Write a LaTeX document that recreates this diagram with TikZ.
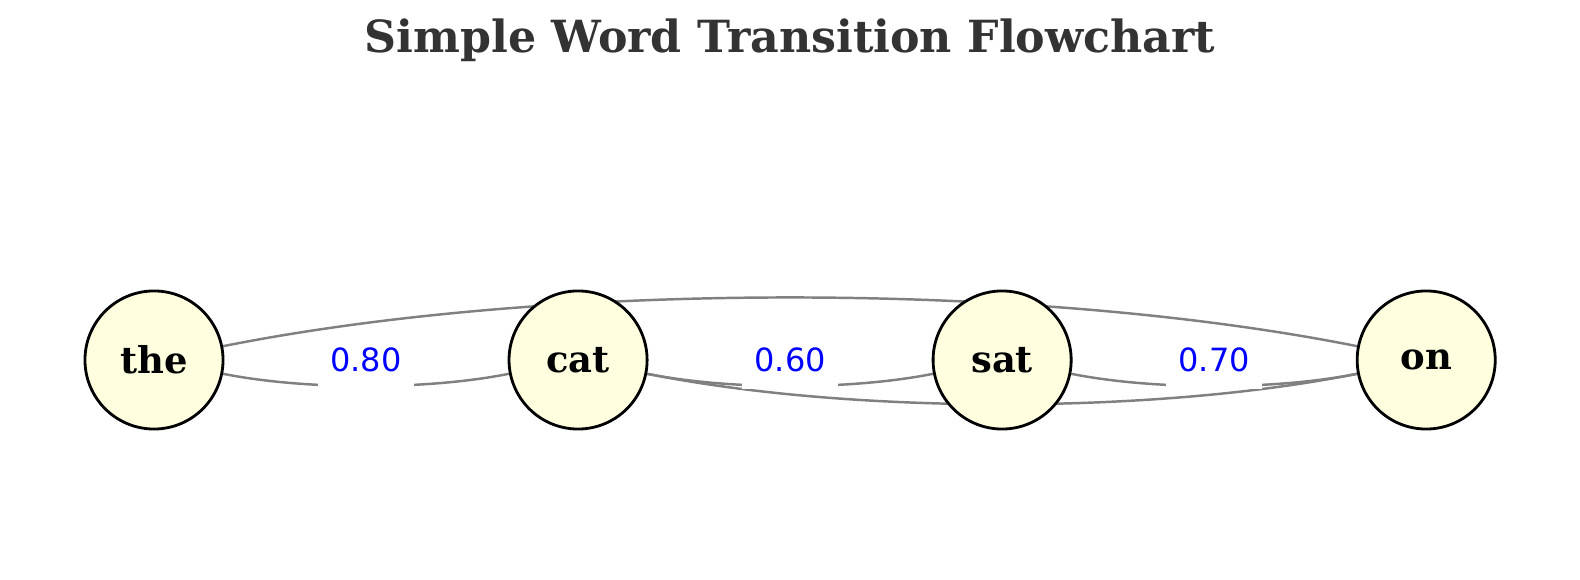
\documentclass[tikz,border=0pt]{standalone}
\usepackage{fontspec}
\setmainfont{DejaVu Serif}
\newfontfamily\probfont{DejaVu Sans}
\usepackage{tikz}
\usetikzlibrary{
	positioning,                % For "right=of node" syntax
	calc                        % For midpoints between words
}
\definecolor{wordfill}{HTML}{FFFFE0}
\definecolor{titlegray}{HTML}{333333}
\definecolor{edgegray}{HTML}{808080}
\pgfdeclarelayer{background}
\pgfsetlayers{background,main}
\tikzset{
	word/.style={
		circle,
		draw=black,
		line width=0.8pt,
		fill=wordfill,
		minimum size=1.38cm,
		inner sep=0pt,
		font=\fontsize{10.5}{12}\selectfont\bfseries
	},
	prob/.style={
		fill=white,
		text=blue,
		inner sep=0pt,
		minimum width=0.96cm,
		minimum height=0.58cm,
		font=\probfont\fontsize{9.1}{11}\selectfont
	},
	trans/.style={
		draw=edgegray,
		line width=0.7pt,
		looseness=0.75
	}
}

\begin{document}
\begin{tikzpicture}[x=0.01cm, y=-0.01cm, node distance=2.83cm]
		\useasboundingbox (0,0) rectangle (1580,580);
		
		% Title
		\node [anchor=base, text=titlegray, font=\fontsize{12.6}{15}\selectfont\bfseries] (title) at (790,53) {Simple Word Transition Flowchart};
		
		% Words in one row
		\node [word] (the) at (154,360) {the};
		\node [word, right=of the] (cat) {cat};
		\node [word, right=of cat] (sat) {sat};
		\node [word, right=of sat] (on) {on};
		
		% Transitions, behind the words
		\begin{pgfonlayer}{background}
			\draw [trans] (the) to [bend right=11.3] (cat);
			\draw [trans] (cat) to [bend right=11.3] (sat);
			\draw [trans] (sat) to [bend right=11.3] (on);
			\draw [trans] (the) to [bend left=11.3] (on);
			\draw [trans] (cat) to [bend right=11.3] (on);
		\end{pgfonlayer}
		
		% Probabilities at the midpoints
		\node [prob] (p1) at ($(the)!0.5!(cat)$) {0.80};
		\node [prob] (p2) at ($(cat)!0.5!(sat)$) {0.60};
		\node [prob] (p3) at ($(sat)!0.5!(on)$) {0.70};
	\end{tikzpicture}
\end{document}
